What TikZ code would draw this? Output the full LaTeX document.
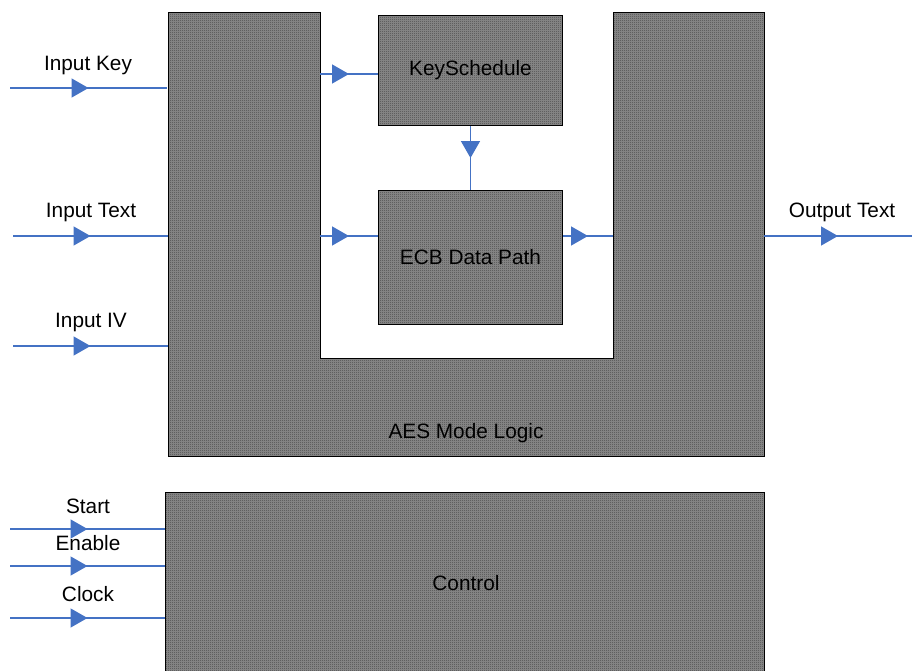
\documentclass[tikz,border=0pt]{standalone}
\usepackage{fontspec}
\setmainfont{Liberation Sans}
\usetikzlibrary{arrows.meta,decorations.markings,patterns.meta}

\definecolor{sigblue}{RGB}{68,114,196}
\definecolor{chklight}{RGB}{140,140,140}
\definecolor{chkdark}{RGB}{72,72,72}

% fine two-tone checkerboard used as the block fill
\tikzdeclarepattern{
  name=finechecker, type=uncolored,
  bottom left={(0pt,0pt)}, top right={(2pt,2pt)}, tile size={(2pt,2pt)},
  code={
    \pgfpathrectangle{\pgfpoint{0pt}{0pt}}{\pgfpoint{1pt}{1pt}}
    \pgfpathrectangle{\pgfpoint{1pt}{1pt}}{\pgfpoint{1pt}{1pt}}
    \pgfusepath{fill}
  }
}

\tikzset{
  block/.style={draw=black, line width=1pt, preaction={fill=chklight},
    pattern=finechecker, pattern color=chkdark},
  boxnode/.style={block, inner sep=0pt, anchor=north west},
  lbl/.style={font=\fontsize{20.8}{25}\selectfont, inner sep=0pt},
  sig/.style={draw=sigblue, line width=1.5pt, postaction={decorate},
    decoration={markings, mark=at position 0.5 with
      {\arrow{Triangle[length=17pt,width=19pt]}}}}
}

\begin{document}
\begin{tikzpicture}[x=1pt, y=-1pt, sigblue]
\useasboundingbox (0,0) rectangle (912,670);

% U-shaped mode logic block
\draw[block] (168,12) -- (320,12) -- (320,358) -- (613,358) -- (613,12)
  -- (764,12) -- (764,456) -- (168,456) -- cycle;
\node[lbl, text=black] (aes) at (466,433) {AES Mode Logic};

% inner blocks
\node[boxnode, minimum width=184, minimum height=110] (ks) at (378,15) {};
\node[lbl, text=black] (kslbl) at (ks.center) {KeySchedule};
\node[boxnode, minimum width=184, minimum height=134] (ecb) at (378,190) {};
\node[lbl, text=black] (ecblbl) at (ecb.center) {ECB Data Path};

% control block
\node[boxnode, minimum width=599, minimum height=182] (ctl) at (165,492) {};
\node[lbl, text=black] (ctllbl) at (466,583) {Control};

% ports on the mode logic outline
\coordinate (aesKey)  at (167,88);
\coordinate (aesText) at (168,236);
\coordinate (aesIV)   at (168,346);
\coordinate (lcKs)    at (320,74);
\coordinate (lcEcb)   at (320,236);
\coordinate (rcIn)    at (613,236);
\coordinate (aesOut)  at (764,236);
\coordinate (ctlStart)  at (165,529);
\coordinate (ctlEnable) at (165,566);
\coordinate (ctlClock)  at (165,618);

% free ends of the external signals
\coordinate (srcKey)    at (10,88);
\coordinate (srcText)   at (13,236);
\coordinate (srcIV)     at (13,346);
\coordinate (dstOut)    at (912,236);
\coordinate (srcStart)  at (10,529);
\coordinate (srcEnable) at (10,566);
\coordinate (srcClock)  at (10,618);

% external inputs and output
\draw[sig] (srcKey) -- (aesKey);
\draw[sig] (srcText) -- (aesText);
\draw[sig] (srcIV) -- (aesIV);
\draw[sig] (aesOut) -- (dstOut);
\draw[sig] (srcStart) -- (ctlStart);
\draw[sig] (srcEnable) -- (ctlEnable);
\draw[sig] (srcClock) -- (ctlClock);

% internal data flow
\draw[sig] (lcKs) -- (lcKs -| ks.west);
\draw[sig] (lcEcb) -- (lcEcb -| ecb.west);
\draw[sig] (ks.south) -- (ecb.north);
\draw[sig] (rcIn -| ecb.east) -- (rcIn);

% signal labels
\node[lbl, text=black] (tKey)    at (88,65)  {Input Key};
\node[lbl, text=black] (tText)   at (91,212) {Input Text};
\node[lbl, text=black] (tIV)     at (91,322) {Input IV};
\node[lbl, text=black] (tOut)    at (842,212) {Output Text};
\node[lbl, text=black] (tStart)  at (88,506) {Start};
\node[lbl, text=black] (tEnable) at (88,543) {Enable};
\node[lbl, text=black] (tClock)  at (88,594) {Clock};
\end{tikzpicture}
\end{document}
